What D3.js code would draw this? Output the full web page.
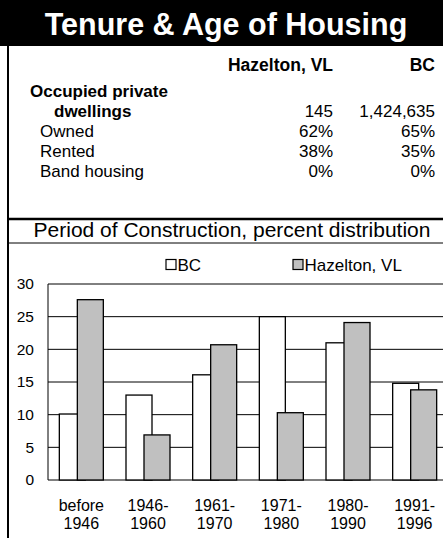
<!DOCTYPE html>
<html>
<head>
<meta charset="utf-8">
<script src="https://cdn.jsdelivr.net/npm/d3@7"></script>
<style>
  body { margin: 0; background: #fff; }
  svg { display: block; font-family: Arial, "Liberation Sans", sans-serif; }
</style>
</head>
<body>
<div id="chart"></div>
<script>
// table data
var tableCols = ["Hazelton, VL", "BC"];
var dwellings = ["145", "1,424,635"];
var rowLabels = ["Owned", "Rented", "Band housing"];
var hazRows = ["62%", "38%", "0%"];
var bcRows = ["65%", "35%", "0%"];

// chart data
var periods = [["before", "1946"], ["1946-", "1960"], ["1961-", "1970"], ["1971-", "1980"], ["1980-", "1990"], ["1991-", "1996"]];
var seriesNames = ["BC", "Hazelton, VL"];
var bcValues = [10.1, 13.0, 16.1, 25.0, 21.0, 14.8];
var hazValues = [27.6, 6.9, 20.7, 10.3, 24.1, 13.8];
var yTicks = [0, 5, 10, 15, 20, 25, 30];

var width = 443, height = 538;

var svg = d3.select('#chart').append('svg')
    .attr('width', width)
    .attr('height', height);

// title bar
svg.append('rect')
    .attr('x', 0).attr('y', 0)
    .attr('width', width).attr('height', 46)
    .attr('fill', '#000');
svg.append('text')
    .attr('x', 226).attr('y', 35)
    .attr('text-anchor', 'middle')
    .attr('fill', '#fff')
    .style('font-size', '30.5px')
    .style('font-weight', 'bold')
    .text('Tenure & Age of Housing');

// frame lines
svg.append('line').attr('x1', 8).attr('x2', 8).attr('y1', 46).attr('y2', height)
    .attr('stroke', '#000').attr('stroke-width', 2);
svg.append('line').attr('x1', 8).attr('x2', width).attr('y1', 219).attr('y2', 219)
    .attr('stroke', '#000').attr('stroke-width', 2.5);
svg.append('line').attr('x1', 8).attr('x2', width).attr('y1', 243).attr('y2', 243)
    .attr('stroke', '#000').attr('stroke-width', 1);

// table
var colX = [333, 435];
var t = svg.append('g').style('font-size', '17px');
t.selectAll('.hdr').data(tableCols).enter().append('text')
    .attr('class', 'hdr')
    .attr('x', function (d, i) { return colX[i]; })
    .attr('y', 71)
    .attr('text-anchor', 'end')
    .style('font-weight', 'bold')
    .style('font-size', '17.5px')
    .text(function (d) { return d; });

t.append('text').attr('x', 30).attr('y', 97).style('font-weight', 'bold').text('Occupied private');
t.append('text').attr('x', 54).attr('y', 117).style('font-weight', 'bold').text('dwellings');
t.selectAll('.dw').data(dwellings).enter().append('text')
    .attr('x', function (d, i) { return colX[i]; })
    .attr('y', 117)
    .attr('text-anchor', 'end')
    .text(function (d) { return d; });

var rowY = function (i) { return 137 + i * 20; };
rowLabels.forEach(function (lab, i) {
    t.append('text').attr('x', 40).attr('y', rowY(i)).text(lab);
    t.append('text').attr('x', colX[0]).attr('y', rowY(i)).attr('text-anchor', 'end').text(hazRows[i]);
    t.append('text').attr('x', colX[1]).attr('y', rowY(i)).attr('text-anchor', 'end').text(bcRows[i]);
});

// chart title
svg.append('text')
    .attr('x', 232).attr('y', 237)
    .attr('text-anchor', 'middle')
    .style('font-size', '21px')
    .text('Period of Construction, percent distribution');

// legend
var legendX = [166, 293];
var legendFill = ['#fff', '#c0c0c0'];
var lg = svg.selectAll('.leg').data(seriesNames).enter().append('g')
    .attr('transform', function (d, i) { return 'translate(' + legendX[i] + ',259.5)'; });
lg.append('rect').attr('width', 10).attr('height', 10)
    .attr('fill', function (d, i) { return legendFill[i]; })
    .attr('stroke', '#000').attr('stroke-width', 1.2);
lg.append('text').attr('x', 11.5).attr('y', 11)
    .style('font-size', '17px')
    .text(function (d) { return d; });

// plot
var x = d3.scaleBand().domain(d3.range(periods.length)).range([48, 448]);
var y = d3.scaleLinear().domain([0, 30]).range([480, 284]);
var bw = x.bandwidth();

svg.selectAll('.grid').data(yTicks).enter().append('line')
    .attr('x1', 48).attr('x2', width)
    .attr('y1', function (d) { return y(d); })
    .attr('y2', function (d) { return y(d); })
    .attr('stroke', '#000').attr('stroke-width', 1);
svg.append('line').attr('x1', 48).attr('x2', 48).attr('y1', y(30)).attr('y2', y(0))
    .attr('stroke', '#000').attr('stroke-width', 1);

svg.selectAll('.ylab').data(yTicks).enter().append('text')
    .attr('x', 34)
    .attr('y', function (d) { return y(d); })
    .attr('dy', '.35em')
    .attr('text-anchor', 'end')
    .style('font-size', '15.5px')
    .text(function (d) { return d; });

svg.selectAll('.bc').data(bcValues).enter().append('rect')
    .attr('x', function (d, i) { return x(i) + bw * 0.17; })
    .attr('y', function (d) { return y(d); })
    .attr('width', bw * 0.39)
    .attr('height', function (d) { return y(0) - y(d); })
    .attr('fill', '#fff').attr('stroke', '#000').attr('stroke-width', 1.3);

svg.selectAll('.hz').data(hazValues).enter().append('rect')
    .attr('x', function (d, i) { return x(i) + bw * 0.44; })
    .attr('y', function (d) { return y(d); })
    .attr('width', bw * 0.39)
    .attr('height', function (d) { return y(0) - y(d); })
    .attr('fill', '#c0c0c0').attr('stroke', '#000').attr('stroke-width', 1.3);

var xl = svg.selectAll('.xlab').data(periods).enter().append('text')
    .attr('x', function (d, i) { return x(i) + bw * 0.5; })
    .attr('y', 511)
    .attr('text-anchor', 'middle')
    .style('font-size', '16px');
xl.append('tspan').text(function (d) { return d[0]; });
xl.append('tspan')
    .attr('x', function (d, i) { return x(i) + bw * 0.5; })
    .attr('dy', 18)
    .text(function (d) { return d[1]; });
</script>
</body>
</html>
